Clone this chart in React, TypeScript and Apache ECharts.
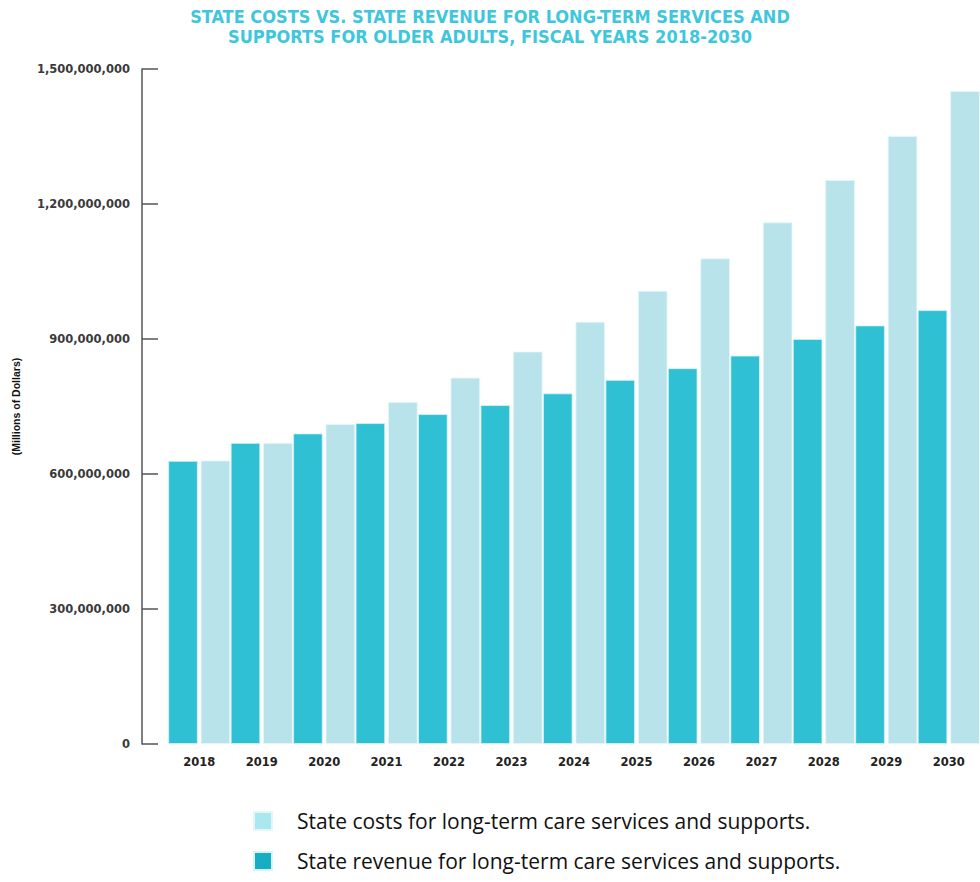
import React, { useEffect, useRef } from "react";
import * as echarts from "echarts";

const years = ["2018", "2019", "2020", "2021", "2022", "2023", "2024", "2025", "2026", "2027", "2028", "2029", "2030"];
const revenue = [629, 669, 690, 713, 733, 753, 779, 809, 835, 863, 900, 930, 964];
const costs = [630, 669, 711, 760, 814, 872, 938, 1007, 1079, 1159, 1253, 1351, 1451];
const costsName = "State costs for long-term care services and supports.";
const revenueName = "State revenue for long-term care services and supports.";
const titleLines = [
  "STATE COSTS VS. STATE REVENUE FOR LONG-TERM SERVICES AND",
  "SUPPORTS FOR OLDER ADULTS, FISCAL YEARS 2018-2030",
];

export default function App() {
  const ref = useRef<HTMLDivElement>(null);
  useEffect(() => {
    const chart = echarts.init(ref.current!, null, { renderer: "svg" });
    chart.setOption({
      animation: false,
      title: {
        text: titleLines.join("\n"),
        left: "center",
        top: 1,
        textStyle: {
          fontFamily: "DejaVu Sans Condensed",
          fontWeight: "bold",
          fontSize: 18,
          lineHeight: 20,
          color: "#3ec7dc",
        },
      },
      legend: {
        orient: "vertical",
        left: 253,
        top: 805.5,
        padding: 0,
        icon: "rect",
        itemWidth: 18,
        itemHeight: 18,
        itemGap: 9,
        data: [
          { name: costsName, itemStyle: { color: "#a9e8ef" } },
          { name: revenueName, itemStyle: { color: "#16aec4" } },
        ],
        textStyle: {
          fontFamily: "Open Sans",
          fontSize: 21,
          lineHeight: 22,
          color: "#111",
          padding: [9, 0, 0, 20],
        },
      },
      grid: [
        { left: 142, right: 0, top: 69, bottom: 138, containLabel: false },
        { left: 168, right: 0, top: 69, bottom: 138, containLabel: false },
      ],
      xAxis: [
        {
          type: "category",
          gridIndex: 0,
          data: years,
          show: false,
        },
        {
          type: "category",
          gridIndex: 1,
          data: years,
          axisLine: { show: false },
          axisTick: { show: false },
          axisLabel: {
            margin: 12,
            fontFamily: "DejaVu Sans",
            fontWeight: "bold",
            fontSize: 11.5,
            color: "#222",
          },
        },
      ],
      yAxis: [
        {
          type: "value",
          gridIndex: 0,
          min: 0,
          max: 1500,
          interval: 300,
          name: "(Millions of Dollars)",
          nameLocation: "middle",
          nameGap: 121,
          nameRotate: 90,
          nameTextStyle: {
            fontFamily: "Liberation Sans",
            fontWeight: "bold",
            fontSize: 10.5,
            color: "#111",
          },
          axisLine: { show: true, onZero: false, lineStyle: { color: "#555", width: 1.5 } },
          axisTick: { show: true, inside: true, length: 16, lineStyle: { color: "#555", width: 1.5 } },
          splitLine: { show: false },
          axisLabel: {
            margin: 12,
            fontFamily: "DejaVu Sans",
            fontWeight: "bold",
            fontSize: 11.5,
            color: "#3a3a3a",
            formatter: (v: number) => (v === 0 ? "0" : (v * 1000000).toLocaleString("en-US")),
          },
        },
        {
          type: "value",
          gridIndex: 1,
          min: 0,
          max: 1500,
          interval: 300,
          show: false,
          splitLine: { show: false },
        },
      ],
      series: [
        {
          name: revenueName,
          type: "bar",
          xAxisIndex: 1,
          yAxisIndex: 1,
          data: revenue,
          barWidth: 29.5,
          barGap: "10%",
          itemStyle: { color: "#30c0d4", borderColor: "#d8f3f7", borderWidth: 0.8 },
        },
        {
          name: costsName,
          type: "bar",
          xAxisIndex: 1,
          yAxisIndex: 1,
          data: costs,
          barWidth: 29.5,
          itemStyle: { color: "#b8e3ea", borderColor: "#e4f6f9", borderWidth: 0.8 },
        },
      ],
    });
    return () => chart.dispose();
  }, []);
  return <div ref={ref} style={{ width: 980, height: 882, position: "absolute", left: 0, top: 0 }} />;
}
